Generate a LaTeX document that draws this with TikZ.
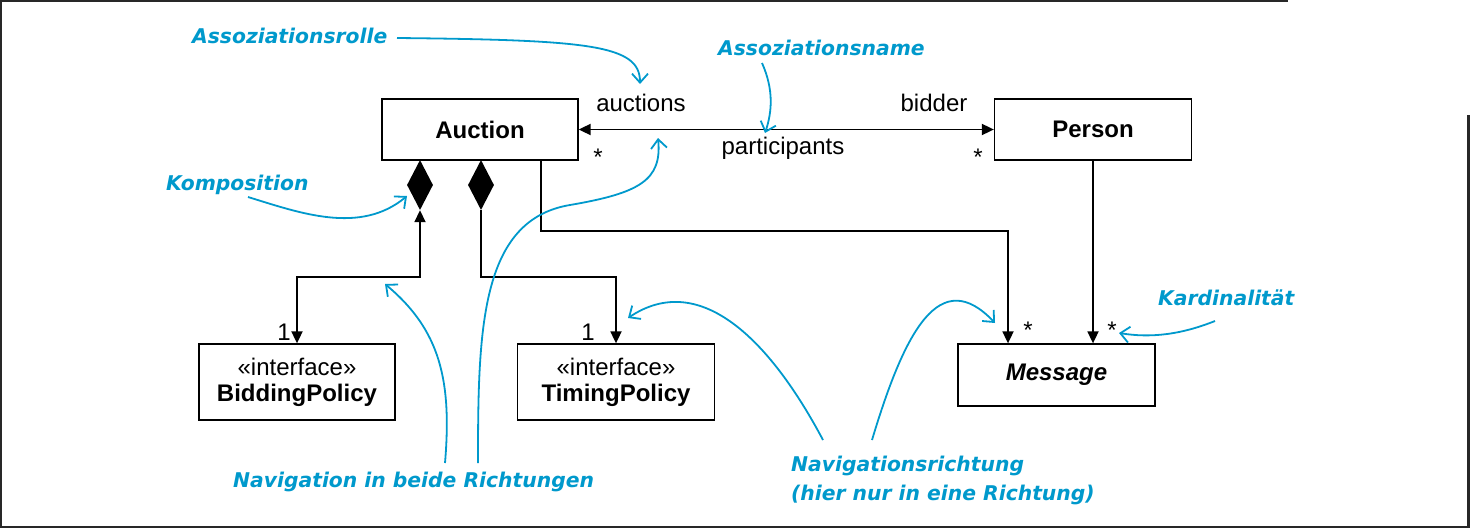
\documentclass[tikz,border=0pt]{standalone}
\usepackage{fontspec}
\setmainfont{Liberation Sans}
\newfontfamily\annofont{DejaVu Sans}
\usetikzlibrary{arrows.meta,shapes.geometric,calc}
\definecolor{acol}{RGB}{0,153,204}
\definecolor{framecol}{RGB}{40,40,40}
\tikzset{
  umlbox/.style={draw, line width=1.3pt, inner sep=0pt, align=center,
    font=\fontsize{24}{26}\selectfont},
  comp/.style={diamond, fill=black, inner sep=0pt, minimum width=26pt, minimum height=50pt},
  conn/.style={line width=1.8pt},
  tri/.tip={Triangle[length=12pt,width=11pt]},
  lbl/.style={inner sep=0pt, anchor=base, font=\fontsize{24}{26}\selectfont},
  anno/.style={text=acol, inner sep=0pt, anchor=base west,
    font=\annofont\bfseries\itshape\fontsize{20.3}{29}\selectfont},
  aline/.style={draw=acol, line width=1.8pt, -{Straight Barb[length=9pt,width=16pt]}},
}
\begin{document}
\begin{tikzpicture}[x=1pt,y=-1pt]
\useasboundingbox (0,0) rectangle (1470,530);
% frame
\draw[framecol, line width=2.5pt] (0,1) -- (1288,1);
\draw[framecol, line width=2.5pt] (1,0) -- (1,528);
\draw[framecol, line width=2.5pt] (0,527) -- (1469,527);
\draw[framecol, line width=2.5pt] (1468.5,115) -- (1468.5,528);

% classes
\node[umlbox, minimum width=196pt, minimum height=61pt] (auc) at (480,129.5) {\bfseries Auction};
\node[umlbox, minimum width=197pt, minimum height=61pt] (per) at (1093,129.5) {\bfseries Person};
\node[umlbox, minimum width=196pt, minimum height=76pt] (bid) at (297,382) {«interface»\\\bfseries BiddingPolicy};
\node[umlbox, minimum width=197pt, minimum height=76pt] (tim) at (616,382) {«interface»\\\bfseries TimingPolicy};
\node[umlbox, minimum width=197pt, minimum height=62pt] (msg) at (1056.5,375) {\bfseries\itshape Message};

% composition diamonds
\node[comp] (d1) at (420,185) {};
\node[comp] (d2) at (481,185) {};

% association Auction - Person
\draw[conn, tri-tri] (auc.east) -- (per.west);
\node[lbl] (lauc) at (641,111) {auctions};
\node[lbl] (lbid) at (934,111) {bidder};
\node[lbl] (lpar) at (783,154) {participants};
\node[lbl] (s1) at (598,165) {*};
\node[lbl] (s2) at (978,165) {*};

% Auction - BiddingPolicy
\coordinate (b1) at (297,277);
\draw[conn, tri-tri] (d1.south) |- (b1) -- (bid.north);
\node[lbl] (one1) at (284,340) {1};

% Auction - TimingPolicy
\coordinate (t1) at (616,277);
\draw[conn, -tri] (d2.south) |- (t1) -- (tim.north);
\node[lbl] (one2) at (588,340) {1};

% Auction - Message
\coordinate (m1) at (1008,231);
\draw[conn, -tri] ([xshift=61pt]auc.south) |- (m1) -- (m1 |- msg.north);
\node[lbl] (s3) at (1028,338) {*};

% Person - Message
\draw[conn, -tri] (per.south) -- (per.south |- msg.north);
\node[lbl] (s4) at (1112,338) {*};

% annotations
\node[anno] (arolle) at (192,43) {Assoziationsrolle};
\node[anno] (aname) at (718,55) {Assoziationsname};
\node[anno] (akomp) at (166,190) {Komposition};
\node[anno] (akard) at (1158,305) {Kardinalität};
\node[anno] (anav) at (233,487) {Navigation in beide Richtungen};
\node[anno, anchor=north west, align=left] (anr) at (791,456) {Navigationsrichtung\\(hier nur in eine Richtung)};

\coordinate (c1) at (397,38);
\coordinate (c1e) at (640,84);
\draw[aline] (c1) .. controls (590,40) and (640,45) .. (c1e);
\coordinate (c2) at (762,63);
\coordinate (c2e) at (765,133);
\draw[aline] (c2) .. controls (774,90) and (772,112) .. (c2e);
\coordinate (c3) at (248,197);
\coordinate (c3e) at (407,196);
\draw[aline] (c3) .. controls (300,213) and (360,235) .. (c3e);
\coordinate (c4) at (445,463);
\coordinate (c4e) at (385,284);
\draw[aline] (c4) .. controls (452,380) and (440,330) .. (c4e);
\coordinate (c5) at (478,463);
\coordinate (c5m) at (570,205);
\coordinate (c5e) at (658,138);
\draw[aline] (c5) .. controls (478,330) and (480,220) .. (c5m) .. controls (640,193) and (662,180) .. (c5e);
\coordinate (c6) at (823,440);
\coordinate (c6e) at (628,318);
\draw[aline] (c6) .. controls (770,340) and (700,270) .. (c6e);
\coordinate (c7) at (872,440);
\coordinate (c7e) at (995,323);
\draw[aline] (c7) .. controls (905,330) and (940,265) .. (c7e);
\coordinate (c8) at (1215,321);
\coordinate (c8e) at (1119,333);
\draw[aline] (c8) .. controls (1180,335) and (1150,338) .. (c8e);
\end{tikzpicture}
\end{document}
